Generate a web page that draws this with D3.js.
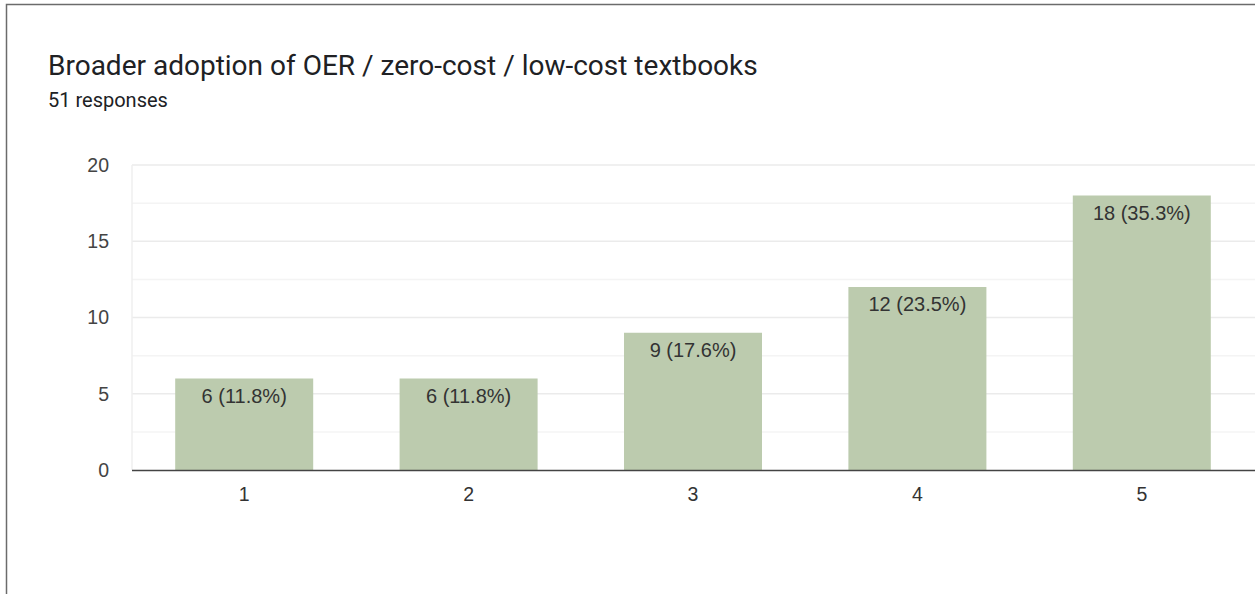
<!DOCTYPE html>
<html><head><meta charset="utf-8">
<script src="https://cdn.jsdelivr.net/npm/d3@7"></script>
<style>body{margin:0;background:#fff}svg{display:block}</style>
</head><body>
<script>
const categories = ["1","2","3","4","5"];
const counts = [6, 6, 9, 12, 18];
const percents = ["11.8%","11.8%","17.6%","23.5%","35.3%"];
const yTicks = [0, 5, 10, 15, 20];
const title = "Broader adoption of OER / zero-cost / low-cost textbooks";
const subtitle = "51 responses";

const W = 1255, H = 594;
const svg = d3.select("body").append("svg").attr("width", W).attr("height", H);

// frame
svg.append("path").attr("d", `M6.5,${H} V4.5 H${W}`).attr("fill","none").attr("stroke","#6b6b6b").attr("stroke-width",1.5);

svg.append("text").attr("x",48).attr("y",75).text(title)
  .attr("font-family","Roboto, 'Noto Sans', sans-serif").attr("font-size",28).attr("fill","#202124");
svg.append("text").attr("x",48).attr("y",107).text(subtitle)
  .attr("font-family","Roboto, 'Noto Sans', sans-serif").attr("font-size",20).attr("fill","#202124");

const x = d3.scaleBand().domain(categories).range([132, 1254]).paddingInner(0.385).paddingOuter(0.1925);
const y = d3.scaleLinear().domain([0, 20]).range([470, 165]);

const font = "'Liberation Sans', Arial, sans-serif";
// minor gridlines
const minor = d3.range(2.5, 20, 5);
svg.append("g").selectAll("line").data(minor).join("line")
  .attr("x1",132).attr("x2",W).attr("y1",d=>y(d)).attr("y2",d=>y(d))
  .attr("stroke","#f4f4f4").attr("stroke-width",1.5);
svg.append("g").selectAll("line").data(yTicks.filter(d=>d>0)).join("line")
  .attr("x1",132).attr("x2",W).attr("y1",d=>y(d)).attr("y2",d=>y(d))
  .attr("stroke","#ebebeb").attr("stroke-width",1.5);
svg.append("line").attr("x1",132).attr("x2",132).attr("y1",y(20)).attr("y2",y(0))
  .attr("stroke","#efefef").attr("stroke-width",1.5);

// y axis labels
const yAxis = d3.axisLeft(y).tickValues(yTicks).tickSize(0).tickPadding(23);
const gy = svg.append("g").attr("transform","translate(132,0)").call(yAxis);
gy.select(".domain").remove();
gy.selectAll("text").attr("font-family",font).attr("font-size",19.5).attr("fill","#444");

// bars
svg.append("g").selectAll("rect").data(categories).join("rect")
  .attr("x",d=>x(d)).attr("width",x.bandwidth())
  .attr("y",(d,i)=>y(counts[i])).attr("height",(d,i)=>y(0)-y(counts[i]))
  .attr("fill","#bccbae");

svg.append("g").selectAll("text").data(categories).join("text")
  .attr("x",d=>x(d)+x.bandwidth()/2).attr("y",(d,i)=>y(counts[i])+24)
  .attr("text-anchor","middle").attr("font-family",font).attr("font-size",20).attr("fill","#333")
  .text((d,i)=>`${counts[i]} (${percents[i]})`);

// x axis
const xAxis = d3.axisBottom(x).tickSize(0).tickPadding(17);
const gx = svg.append("g").attr("transform",`translate(0,${y(0)})`).call(xAxis);
gx.select(".domain").remove();
gx.selectAll("text").attr("font-family",font).attr("font-size",19.5).attr("fill","#333");
svg.append("line").attr("x1",132).attr("x2",W).attr("y1",y(0)+0.5).attr("y2",y(0)+0.5)
  .attr("stroke","#444").attr("stroke-width",1.5);
</script>
</body></html>
